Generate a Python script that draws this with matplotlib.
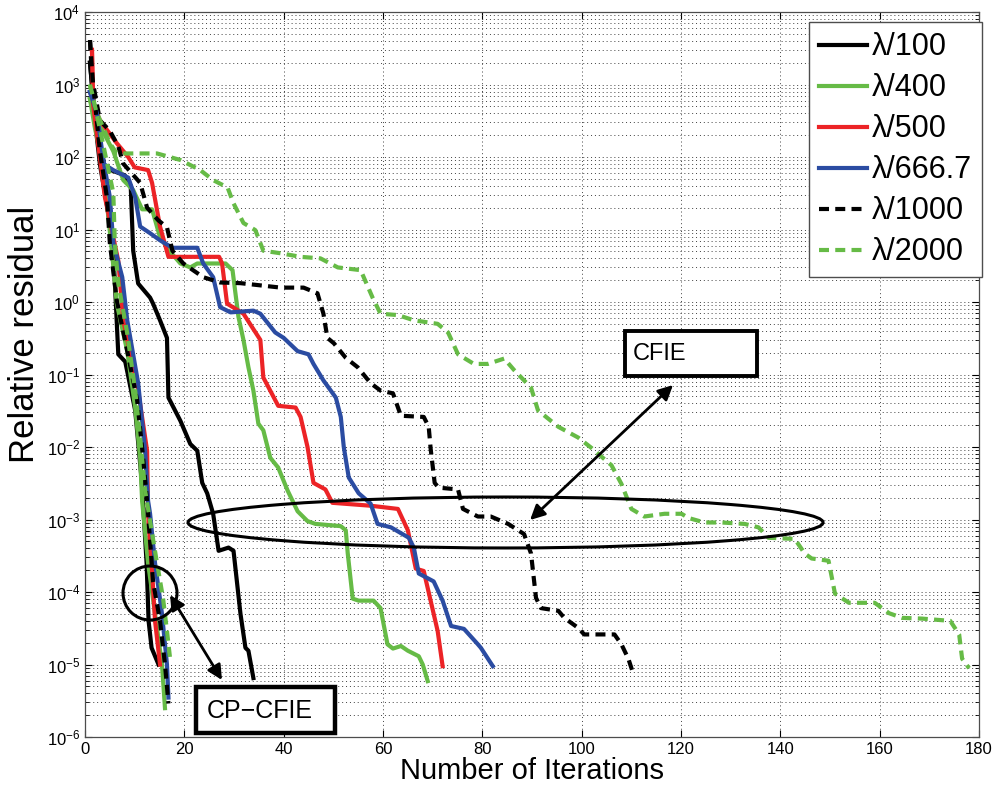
#!/usr/bin/env python3
"""
Convergence history of the iterative solver for CFIE and CP-CFIE
at several mesh densities (relative residual vs. iteration count).
"""

from __future__ import annotations

import matplotlib

matplotlib.use("Agg")
import matplotlib.pyplot as plt
from matplotlib.patches import Ellipse, Rectangle
from matplotlib.ticker import LogLocator, NullFormatter, LogFormatterSciNotation


# ---- CFIE residual histories -------------------------------------------------
it_100_cfie = [1, 2, 4, 8, 9.2, 9.7, 10.7, 13.1, 13.7, 15.1, 16.5, 16.8, 19.2, 21.2, 22.6,
               23.6, 24.6, 25.8, 26.9, 28.9, 29.9, 31.3, 32.3, 32.9, 33.9]
res_100_cfie = [2.0e3, 3.5e2, 71, 56, 40, 5.1, 1.8, 1.15, 0.95, 0.56, 0.32, 4.8e-2, 2.3e-2, 1.1e-2,
                8.9e-3, 3.2e-3, 2.3e-3, 1.2e-3, 3.7e-4, 4.1e-4, 3.7e-4, 5.0e-5, 1.7e-5, 1.55e-5, 6.5e-6]

it_400_cfie = [1, 2, 4, 5.7, 7.7, 9.7, 11.5, 13.5, 15.1, 17.2, 19.2, 21.2, 22.6, 28.3, 29.7,
               30.3, 30.9, 31.9, 32.9, 33.9, 34.9, 35.9, 37.3, 38.9, 40.8, 42.8, 44.8, 46.4,
               51.5, 52.5, 52.9, 53.9, 55.1, 58.1, 59.5, 60.9, 62, 63.6, 65, 67.2, 68, 69]
res_400_cfie = [6.3e2, 3.5e2, 2.0e2, 1.2e2, 48, 35, 19, 19, 7.8, 4.9, 3.4, 3.0, 3.4, 3.4, 2.75,
                1.3, 0.62, 0.30, 0.126, 6.0e-2, 2.1e-2, 1.7e-2, 7.1e-3, 5.2e-3, 2.5e-3, 1.3e-3,
                9.5e-4, 8.7e-4, 8.1e-4, 7.1e-4, 3.4e-4, 8.1e-5, 7.6e-5, 7.6e-5, 6.0e-5, 1.9e-5,
                1.66e-5, 1.8e-5, 1.55e-5, 1.3e-5, 1.0e-5, 5.9e-6]

it_500_cfie = [1.4, 1.6, 3, 6.4, 8.7, 10, 12.7, 13.5, 15.1, 16.8, 27, 27.6, 28.6, 31.9, 35.3,
               35.9, 38.9, 42.4, 43.4, 44.8, 46, 48.4, 49.8, 57.5, 63, 65, 66.6, 68.2, 71, 72]
res_500_cfie = [3.0e3, 5.5e2, 3.2e2, 1.55e2, 1.0e2, 72, 66, 44, 11, 4.2, 4.2, 3.4, 0.95, 0.69,
                0.30, 9.1e-2, 3.7e-2, 3.5e-2, 2.6e-2, 1.0e-2, 3.2e-3, 2.6e-3, 1.7e-3, 1.55e-3,
                1.4e-3, 7.1e-4, 2.1e-4, 1.95e-4, 2.9e-5, 9.5e-6]

it_667_cfie = [1, 2, 3.6, 5.7, 8.7, 10.1, 11.1, 13.1, 15.1, 17.6, 22.6, 23.8, 25.8, 27.2, 29.3,
               33.9, 35.3, 38.3, 40, 42.8, 45, 46, 48, 50.5, 51.5, 52.1, 53.1, 55.1, 57.5, 58.9,
               61.6, 65.2, 66.2, 67.2, 70.2, 72, 73.7, 76.3, 79.1, 79.7, 82.1]
res_667_cfie = [7.9e2, 4.5e2, 81, 66, 52, 28, 11, 8.9, 7.1, 5.6, 5.6, 3.4, 2.2, 0.85, 0.72,
                0.76, 0.69, 0.38, 0.32, 0.21, 0.19, 0.14, 8.3e-2, 4.8e-2, 2.6e-2, 1.0e-2,
                3.8e-3, 2.3e-3, 1.66e-3, 8.7e-4, 7.8e-4, 5.6e-4, 4.1e-4, 1.8e-4, 1.4e-4,
                7.6e-5, 3.4e-5, 3.1e-5, 1.9e-5, 1.7e-5, 9.5e-6]

it_1000_cfie = [1, 1.4, 3, 5, 6.7, 7.7, 11.1, 12.5, 14.7, 16.5, 17.6, 19.8, 23.8, 27.2, 31.3,
                39.4, 44, 46.8, 48, 48.8, 50.1, 52.5, 54.9, 57.5, 59.5, 62, 63.6, 68.2, 69.2,
                69.6, 70.4, 71.2, 75.1, 76.1, 79.1, 81.7, 85.2, 88.4, 89.8, 90.8, 91.8, 95.3,
                96.5, 99.3, 100.5, 106.6, 108, 109.4, 110.4]
res_1000_cfie = [4.1e3, 1.26e3, 3.2e2, 2.3e2, 1.4e2, 81, 44, 20, 13.5, 10.7, 5.1, 3.4, 2.2,
                 1.86, 1.82, 1.58, 1.58, 1.32, 0.69, 0.32, 0.27, 0.17, 0.126, 7.6e-2, 6.0e-2,
                 5.5e-2, 2.7e-2, 2.6e-2, 1.9e-2, 9.3e-3, 3.2e-3, 2.75e-3, 2.6e-3, 1.4e-3,
                 1.1e-3, 1.1e-3, 8.7e-4, 6.3e-4, 3.4e-4, 8.3e-5, 6.0e-5, 5.5e-5, 4.4e-5,
                 3.2e-5, 2.6e-5, 2.6e-5, 1.9e-5, 1.2e-5, 7.4e-6]

it_2000_cfie = [1, 1.6, 5, 6.4, 9.7, 14.5, 19.2, 23.2, 25.8, 28.7, 29.9, 31.9, 34.3, 35.9,
                39.4, 43.4, 47.4, 50.9, 55.5, 57.9, 59.5, 63, 66.2, 71, 73.1, 75.1, 78.3,
                81.1, 84.4, 86.4, 89.8, 91.2, 95.3, 99.3, 101.9, 106, 108, 110, 112.6, 116.7,
                120.1, 121.5, 124.7, 128.2, 132.8, 135.6, 137.6, 142.9, 144.9, 146.3, 149.7,
                151, 153.8, 159, 161.9, 164.5, 168.5, 174.2, 176, 176.6, 178]
res_2000_cfie = [1.0e3, 5.5e2, 1.55e2, 1.12e2, 1.12e2, 1.12e2, 91, 66, 48, 38, 23, 12.3, 9.8,
                 5.1, 4.7, 4.2, 4.0, 3.0, 2.75, 1.15, 0.69, 0.66, 0.56, 0.50, 0.38, 0.19, 0.14,
                 0.14, 0.166, 0.115, 6.6e-2, 3.2e-2, 1.9e-2, 1.35e-2, 9.8e-3, 5.6e-3, 3.1e-3,
                 1.4e-3, 1.1e-3, 1.2e-3, 1.2e-3, 1.05e-3, 9.1e-4, 9.1e-4, 8.7e-4, 7.8e-4,
                 5.6e-4, 5.4e-4, 3.4e-4, 2.9e-4, 2.7e-4, 9.5e-5, 7.1e-5, 7.1e-5, 5.1e-5,
                 4.4e-5, 4.3e-5, 4.0e-5, 2.6e-5, 1.2e-5, 8.9e-6]

# ---- CP-CFIE residual histories ----------------------------------------------
it_100_cp = [1, 2, 3, 4.5, 5.7, 6.7, 8.1, 10.1, 11.1, 11.4, 12.4, 12.8, 13.4, 14.8]
res_100_cp = [2.0e3, 3.2e2, 79, 20, 5.1, 0.19, 0.15, 3.2e-2, 5.9e-3, 3.5e-3, 2.5e-4, 4.0e-5,
              1.7e-5, 1.0e-5]

it_400_cp = [1, 2, 3.6, 5.4, 6.4, 8.5, 10.1, 11.1, 11.5, 12.7, 14.1, 15.5, 16.1]
res_400_cp = [6.3e2, 2.5e2, 79, 5.1, 0.95, 0.21, 3.5e-2, 7.1e-3, 1.8e-3, 2.5e-4, 5.0e-5,
              1.0e-5, 2.5e-6]

it_500_cp = [1.4, 1.6, 4, 5.4, 6.7, 7.7, 10.7, 12.5, 12.7, 13.5, 14.1, 15.1]
res_500_cp = [3.0e3, 5.5e2, 28, 9.8, 3.7, 0.56, 6.0e-2, 8.9e-3, 1.2e-3, 1.95e-4, 4.0e-5, 1.0e-5]

it_667_cp = [1, 2.4, 3.6, 5, 5.7, 7.5, 8.5, 10.7, 12.1, 12.7, 13.1, 14.1, 15.5, 16.5, 16.8]
res_667_cp = [7.9e2, 4.0e2, 1.0e2, 28, 6.5, 2.2, 0.56, 7.6e-2, 8.9e-3, 1.8e-3, 1.2e-3, 2.5e-4,
              5.0e-5, 1.0e-5, 3.5e-6]

it_1000_cp = [1, 1.6, 3, 4.4, 5, 6.4, 8.5, 10.5, 11.7, 12.5, 12.7, 13.7, 15.1, 16.1, 16.8]
res_1000_cp = [4.1e3, 1.05e3, 1.2e2, 28, 6.5, 1.05, 0.21, 4.4e-2, 7.1e-3, 1.8e-3, 1.2e-3,
               1.4e-4, 4.0e-5, 1.0e-5, 2.9e-6]

it_2000_cp = [1, 1.6, 3.6, 5.7, 6, 6.7, 8.5, 10.1, 11.1, 12.1, 13.1, 14.5, 15.7, 16.5, 17.2]
res_2000_cp = [1.0e3, 6.8e2, 1.55e2, 32, 6.5, 1.8, 0.37, 6.0e-2, 1.35e-2, 2.5e-3, 9.5e-4,
               2.5e-4, 8.3e-5, 2.9e-5, 1.1e-5]

labels = ["\u03bb/100", "\u03bb/400", "\u03bb/500", "\u03bb/666.7", "\u03bb/1000", "\u03bb/2000"]

GREEN = "#66bb46"
RED = "#ec2326"
BLUE = "#2b4ca2"
DASH = (0, (2.4, 1.5))

styles = [
    dict(color="black", linestyle="-"),
    dict(color=GREEN, linestyle="-"),
    dict(color=RED, linestyle="-"),
    dict(color=BLUE, linestyle="-"),
    dict(color="black", linestyle=DASH),
    dict(color=GREEN, linestyle=DASH),
]


def setup_fonts() -> None:
    plt.rcParams["font.family"] = ["Liberation Sans", "DejaVu Sans"]
    plt.rcParams["mathtext.fontset"] = "custom"
    plt.rcParams["mathtext.rm"] = "Liberation Sans"
    plt.rcParams["mathtext.it"] = "Liberation Sans:italic"
    plt.rcParams["mathtext.bf"] = "Liberation Sans:bold"


def style_axes(ax) -> None:
    ax.set_xlim(0, 180)
    ax.set_ylim(1e-6, 1e4)
    ax.set_yscale("log")
    ax.set_xticks(range(0, 181, 20))
    ax.yaxis.set_major_locator(LogLocator(base=10, numticks=20))
    ax.yaxis.set_major_formatter(LogFormatterSciNotation())
    ax.yaxis.set_minor_locator(LogLocator(base=10, subs=range(2, 10), numticks=20))
    ax.yaxis.set_minor_formatter(NullFormatter())

    ax.tick_params(which="both", direction="in", top=True, right=True, labelsize=12)
    ax.tick_params(which="major", length=5, width=0.8)
    ax.tick_params(which="minor", length=3, width=0.6)

    grid_style = dict(color="0.25", linestyle=(0, (1, 3)), linewidth=0.7)
    ax.grid(True, which="major", axis="both", **grid_style)
    ax.grid(True, which="minor", axis="y", **grid_style)
    for spine in ax.spines.values():
        spine.set_linewidth(0.9)
        spine.set_color("0.3")

    ax.set_xlabel("Number of Iterations", fontsize=21)
    ax.xaxis.set_label_coords(0.5, -0.028)
    ax.set_ylabel("Relative residual", fontsize=25)
    ax.yaxis.set_label_coords(-0.049, 0.556)


def draw_annotations(ax) -> None:
    # CFIE group marker and label
    ax.add_patch(Ellipse((0.4704, 0.2959), 0.7103, 0.0703, transform=ax.transAxes,
                         fill=False, edgecolor="black", linewidth=2.2, zorder=5))
    ax.add_patch(Rectangle((0.604, 0.498), 0.1477, 0.062, transform=ax.transAxes,
                           facecolor="white", edgecolor="black", linewidth=2.8, zorder=6))
    ax.text(0.613, 0.528, "CFIE", transform=ax.transAxes, fontsize=17,
            va="center", ha="left", zorder=7)
    ax.annotate("", xy=(0.4978, 0.2993), xytext=(0.6577, 0.4855),
                xycoords="axes fraction", textcoords="axes fraction",
                arrowprops=dict(arrowstyle="<|-|>", color="black", lw=2,
                                mutation_scale=22, shrinkA=0, shrinkB=0), zorder=6)

    # CP-CFIE group marker and label
    ax.add_patch(Ellipse((0.0727, 0.1986), 0.0604, 0.0745, transform=ax.transAxes,
                         fill=False, edgecolor="black", linewidth=2.2, zorder=5))
    ax.add_patch(Rectangle((0.1242, 0.0055), 0.1555, 0.0634, transform=ax.transAxes,
                           facecolor="white", edgecolor="black", linewidth=3.2, zorder=6))
    ax.text(0.1365, 0.036, "CP\u2212CFIE", transform=ax.transAxes, fontsize=18,
            va="center", ha="left", zorder=7)
    ax.annotate("", xy=(0.0951, 0.1959), xytext=(0.1532, 0.0786),
                xycoords="axes fraction", textcoords="axes fraction",
                arrowprops=dict(arrowstyle="<|-|>", color="black", lw=2,
                                mutation_scale=22, shrinkA=0, shrinkB=0), zorder=6)


def main() -> None:
    setup_fonts()

    fig = plt.figure(figsize=(9.99, 7.96), dpi=100)
    ax = fig.add_axes([0.0851, 0.0741, 0.8949, 0.9108])

    cfie = [
        (it_100_cfie, res_100_cfie),
        (it_400_cfie, res_400_cfie),
        (it_500_cfie, res_500_cfie),
        (it_667_cfie, res_667_cfie),
        (it_1000_cfie, res_1000_cfie),
        (it_2000_cfie, res_2000_cfie),
    ]
    cp_cfie = [
        (it_100_cp, res_100_cp),
        (it_400_cp, res_400_cp),
        (it_500_cp, res_500_cp),
        (it_667_cp, res_667_cp),
        (it_1000_cp, res_1000_cp),
        (it_2000_cp, res_2000_cp),
    ]

    for (x, y), style, label in zip(cfie, styles, labels):
        ax.plot(x, y, linewidth=3, label=label, **style)
    for (x, y), style in zip(cp_cfie, styles):
        ax.plot(x, y, linewidth=3, **style)

    style_axes(ax)
    draw_annotations(ax)

    legend = ax.legend(loc="upper right", bbox_to_anchor=(1.003, 0.986), borderaxespad=0,
                       fontsize=22, handlelength=1.57, handletextpad=0.16,
                       labelspacing=0.36, borderpad=0.33, fancybox=False,
                       framealpha=1, edgecolor="0.3")
    legend.get_frame().set_linewidth(1.0)

    fig.savefig("out.png", dpi=100)
    plt.close(fig)


if __name__ == "__main__":
    main()
